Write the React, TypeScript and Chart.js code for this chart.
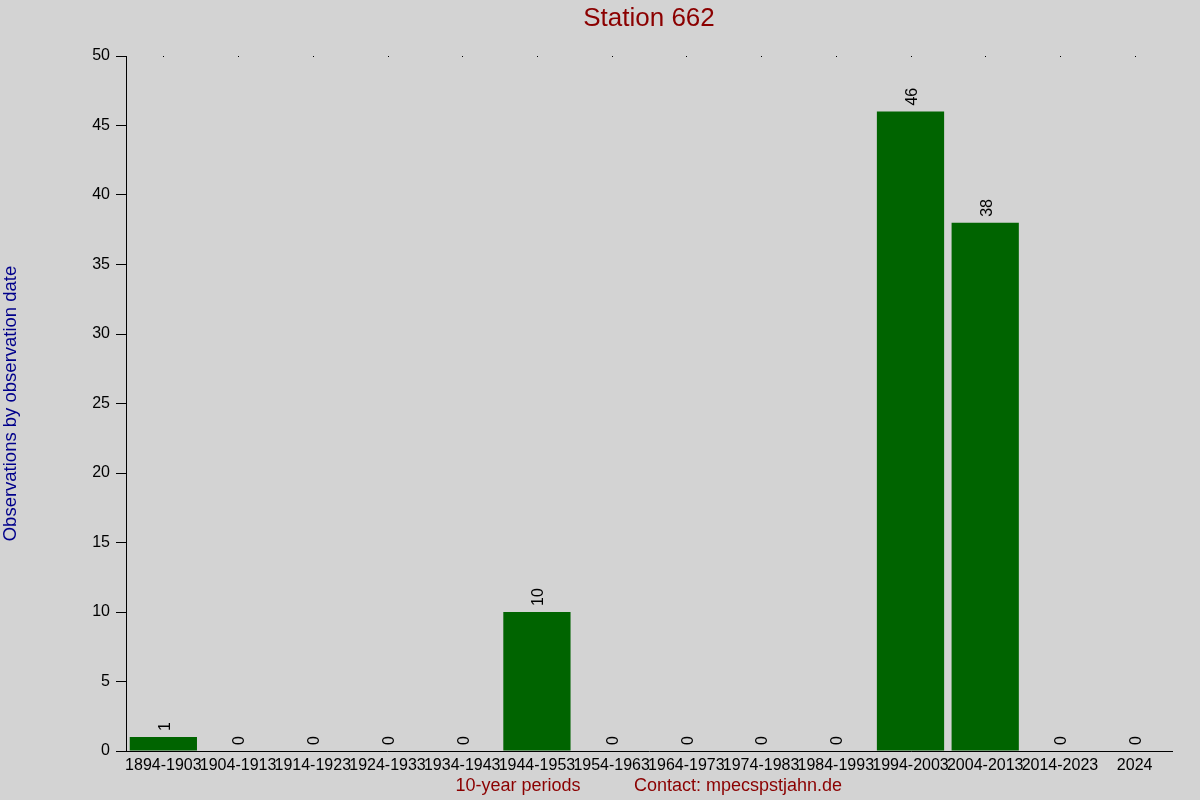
import React, { useEffect, useRef } from 'react';
import { Chart, registerables } from 'chart.js';

Chart.register(...registerables);

const periods = [
  '1894-1903', '1904-1913', '1914-1923', '1924-1933', '1934-1943', '1944-1953', '1954-1963',
  '1964-1973', '1974-1983', '1984-1993', '1994-2003', '2004-2013', '2014-2023', '2024',
];
const observations = [1, 0, 0, 0, 0, 10, 0, 0, 0, 0, 46, 38, 0, 0];

const FONT = '"Liberation Sans", Arial, sans-serif';

// background, value labels, titles and the little dots along the top
const decorPlugin = {
  id: 'decor',
  beforeDraw(chart: any) {
    const ctx = chart.ctx;
    ctx.save();
    ctx.fillStyle = '#d3d3d3';
    ctx.fillRect(0, 0, chart.width, chart.height);
    ctx.restore();
  },
  afterDraw(chart: any) {
    const ctx = chart.ctx;
    const { chartArea } = chart;
    const xScale = chart.scales.x;
    const meta = chart.getDatasetMeta(0);
    ctx.save();

    // dots at the top
    ctx.fillStyle = '#000';
    periods.forEach((_, i) => {
      const x = xScale.getPixelForValue(i);
      ctx.fillRect(Math.round(x), chartArea.top, 1, 1);
    });

    // value labels
    ctx.font = `16px ${FONT}`;
    ctx.fillStyle = '#000';
    ctx.textAlign = 'left';
    ctx.textBaseline = 'middle';
    meta.data.forEach((bar: any, i: number) => {
      ctx.save();
      ctx.translate(bar.x + 2, bar.y - 6);
      ctx.rotate(-Math.PI / 2);
      ctx.fillText(String(observations[i]), 0, 0);
      ctx.restore();
    });

    // title
    ctx.fillStyle = '#8b0000';
    ctx.font = `26px ${FONT}`;
    ctx.textAlign = 'center';
    ctx.textBaseline = 'middle';
    ctx.fillText('Station 662', (chartArea.left + chartArea.right) / 2, 19);

    // x titles
    ctx.font = `18px ${FONT}`;
    ctx.fillText('10-year periods', 518, 786);
    ctx.fillText('Contact: mpecspstjahn.de', 738, 786);

    // y title
    ctx.fillStyle = '#00008b';
    ctx.font = `18.5px ${FONT}`;
    ctx.translate(11, (chartArea.top + chartArea.bottom) / 2);
    ctx.rotate(-Math.PI / 2);
    ctx.fillText('Observations by observation date', 0, 0);
    ctx.restore();
  },
};

export default function App() {
  const canvasRef = useRef<HTMLCanvasElement>(null);

  useEffect(() => {
    const ctx = canvasRef.current?.getContext('2d');
    if (!ctx) return;
    const chart = new Chart(ctx, {
      type: 'bar',
      data: {
        labels: periods,
        datasets: [{
          data: observations,
          backgroundColor: '#006400',
          borderWidth: 0,
          categoryPercentage: 0.9,
          barPercentage: 1,
        }],
      },
      options: {
        animation: false,
        responsive: false,
        devicePixelRatio: 1,
        layout: { padding: { left: 0, right: 28, top: 56, bottom: 0 } },
        plugins: { legend: { display: false }, tooltip: { enabled: false }, title: { display: false } },
        scales: {
          x: {
            grid: { display: false },
            border: { display: true, color: '#000', width: 1 },
            ticks: {
              autoSkip: false,
              maxRotation: 0,
              minRotation: 0,
              padding: -3,
              color: '#000',
              font: { family: FONT, size: 16 },
            },
            afterFit(scale: any) { scale.height = 49; },
          },
          y: {
            min: 0,
            max: 50,
            ticks: {
              stepSize: 5,
              padding: 6,
              color: '#000',
              font: { family: FONT, size: 16 },
            },
            grid: { drawOnChartArea: false, drawTicks: true, tickLength: 10, color: '#000' },
            border: { display: true, color: '#000', width: 1 },
            afterFit(scale: any) { scale.width = 126; },
          },
        },
      },
      plugins: [decorPlugin],
    });
    return () => chart.destroy();
  }, []);

  return (
    <div style={{ position: 'absolute', left: 0, top: 0, width: 1200, height: 800 }}>
      <canvas ref={canvasRef} width={1200} height={800} style={{ display: 'block' }} />
    </div>
  );
}
